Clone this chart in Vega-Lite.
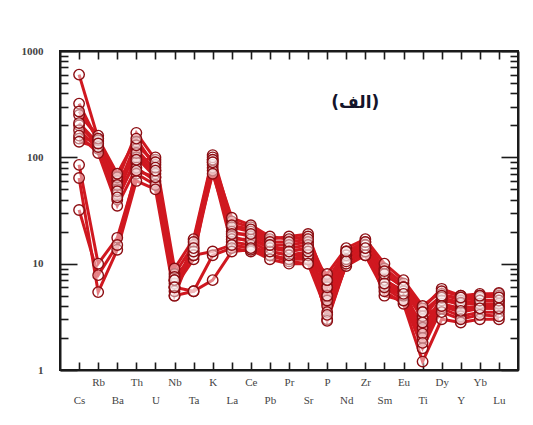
{
  "$schema": "https://vega.github.io/schema/vega-lite/v6.json",
  "autosize": {"type": "none"},
  "width": 458,
  "height": 319,
  "padding": {"left": 60, "top": 51, "right": 15, "bottom": 55},
  "background": "white",
  "config": {
    "view": {"stroke": "#1a1a1a", "strokeWidth": 2},
    "axis": {
      "domainColor": "#1a1a1a",
      "domainWidth": 2,
      "tickColor": "#1a1a1a",
      "tickWidth": 1.6,
      "labelFont": "Liberation Serif",
      "labelFontSize": 11,
      "labelColor": "#444444",
      "labelOverlap": false,
      "labelBound": false,
      "grid": false,
      "title": null
    }
  },
  "datasets": {
    "spider": [
      {"s": "S1", "Cs": 600, "Rb": 150, "Ba": 60, "Th": 170, "U": 95, "Nb": 7, "Ta": 12, "K": 105, "La": 25, "Ce": 22, "Pb": 17, "Pr": 18, "Sr": 19, "P": 6, "Nd": 13, "Zr": 16, "Sm": 9, "Eu": 6.5, "Ti": 3.8, "Dy": 5.8, "Y": 5, "Yb": 5.2, "Lu": 5.2},
      {"s": "S2", "Cs": 320, "Rb": 140, "Ba": 50, "Th": 140, "U": 85, "Nb": 6, "Ta": 11, "K": 95, "La": 27, "Ce": 23, "Pb": 18, "Pr": 17, "Sr": 18, "P": 5, "Nd": 12, "Zr": 15, "Sm": 8, "Eu": 6, "Ti": 3, "Dy": 5.2, "Y": 4.5, "Yb": 4.8, "Lu": 5},
      {"s": "S3", "Cs": 250, "Rb": 160, "Ba": 45, "Th": 120, "U": 75, "Nb": 8, "Ta": 15, "K": 90, "La": 22, "Ce": 20, "Pb": 15, "Pr": 15, "Sr": 16, "P": 4, "Nd": 11, "Zr": 14, "Sm": 7, "Eu": 5.5, "Ti": 2.5, "Dy": 4.8, "Y": 4, "Yb": 4.5, "Lu": 4.5},
      {"s": "S4", "Cs": 200, "Rb": 130, "Ba": 40, "Th": 100, "U": 65, "Nb": 6.5, "Ta": 13, "K": 85, "La": 20, "Ce": 18, "Pb": 14, "Pr": 13, "Sr": 14, "P": 3, "Nd": 10, "Zr": 13, "Sm": 6, "Eu": 5, "Ti": 2, "Dy": 4.2, "Y": 3.8, "Yb": 4, "Lu": 4},
      {"s": "S5", "Cs": 180, "Rb": 120, "Ba": 65, "Th": 90, "U": 100, "Nb": 9, "Ta": 17, "K": 100, "La": 18, "Ce": 16, "Pb": 13, "Pr": 12, "Sr": 12, "P": 8, "Nd": 14, "Zr": 17, "Sm": 10, "Eu": 7, "Ti": 4, "Dy": 5.5, "Y": 5, "Yb": 5, "Lu": 5.3},
      {"s": "S6", "Cs": 150, "Rb": 145, "Ba": 55, "Th": 110, "U": 70, "Nb": 5, "Ta": 14, "K": 80, "La": 16, "Ce": 15, "Pb": 12, "Pr": 11, "Sr": 11, "P": 4.5, "Nd": 11, "Zr": 15, "Sm": 5, "Eu": 4.5, "Ti": 1.6, "Dy": 3.8, "Y": 3.2, "Yb": 3.5, "Lu": 3.5},
      {"s": "S7", "Cs": 160, "Rb": 110, "Ba": 35, "Th": 80, "U": 60, "Nb": 7.5, "Ta": 12, "K": 75, "La": 15, "Ce": 14, "Pb": 12, "Pr": 10.5, "Sr": 10, "P": 3.5, "Nd": 9.5, "Zr": 12, "Sm": 5.5, "Eu": 4.2, "Ti": 1.2, "Dy": 3, "Y": 2.8, "Yb": 3, "Lu": 3},
      {"s": "S8", "Cs": 140, "Rb": 125, "Ba": 48, "Th": 130, "U": 90, "Nb": 5.5, "Ta": 16, "K": 95, "La": 17, "Ce": 17, "Pb": 14, "Pr": 14, "Sr": 15, "P": 2.9, "Nd": 10, "Zr": 13, "Sm": 6.5, "Eu": 5, "Ti": 2.2, "Dy": 4.5, "Y": 4.2, "Yb": 4.2, "Lu": 4.2},
      {"s": "S9", "Cs": 85, "Rb": 10, "Ba": 17.5, "Th": 70, "U": 55, "Nb": 6, "Ta": 5.5, "K": 12, "La": 14, "Ce": 13, "Pb": 12, "Pr": 11, "Sr": 12, "P": 5, "Nd": 12, "Zr": 14, "Sm": 7, "Eu": 5.5, "Ti": 3.2, "Dy": 4, "Y": 3.5, "Yb": 3.8, "Lu": 3.8},
      {"s": "S10", "Cs": 64, "Rb": 5.4, "Ba": 13.5, "Th": 60, "U": 50, "Nb": 5, "Ta": 5.5, "K": 7, "La": 13, "Ce": 13.5, "Pb": 11, "Pr": 10, "Sr": 10, "P": 6, "Nd": 11, "Zr": 12, "Sm": 6, "Eu": 4.5, "Ti": 2.8, "Dy": 3.5, "Y": 3, "Yb": 3.3, "Lu": 3.2},
      {"s": "S11", "Cs": 32, "Rb": 7.8, "Ba": 15, "Th": 75, "U": 65, "Nb": 7, "Ta": 12, "K": 13, "La": 15, "Ce": 14, "Pb": 13, "Pr": 12, "Sr": 13, "P": 7, "Nd": 13, "Zr": 15, "Sm": 8, "Eu": 6, "Ti": 3.5, "Dy": 4.8, "Y": 4.3, "Yb": 4.5, "Lu": 4.5},
      {"s": "S12", "Cs": 270, "Rb": 150, "Ba": 70, "Th": 150, "U": 80, "Nb": 7, "Ta": 13, "K": 90, "La": 23, "Ce": 21, "Pb": 16, "Pr": 16, "Sr": 17, "P": 7, "Nd": 13, "Zr": 16, "Sm": 8.5, "Eu": 6, "Ti": 3.5, "Dy": 5, "Y": 4.8, "Yb": 5, "Lu": 4.8},
      {"s": "S13", "Cs": 210, "Rb": 135, "Ba": 42, "Th": 95, "U": 75, "Nb": 6, "Ta": 14, "K": 70, "La": 19, "Ce": 19, "Pb": 15, "Pr": 13, "Sr": 14, "P": 3.3, "Nd": 10.5, "Zr": 14, "Sm": 6.5, "Eu": 5.2, "Ti": 1.8, "Dy": 4, "Y": 3.6, "Yb": 3.8, "Lu": 3.8}
    ]
  },
  "layer": [
    {
      "data": {"name": "spider"},
      "transform": [
        {"fold": ["Cs", "Rb", "Ba", "Th", "U", "Nb", "Ta", "K", "La", "Ce", "Pb", "Pr", "Sr", "P", "Nd", "Zr", "Sm", "Eu", "Ti", "Dy", "Y", "Yb", "Lu"], "as": ["el", "v"]}
      ],
      "mark": {"type": "line", "color": "#d01820", "strokeWidth": 3},
      "encoding": {
        "x": {
          "field": "el", "type": "ordinal",
          "sort": ["Cs", "Rb", "Ba", "Th", "U", "Nb", "Ta", "K", "La", "Ce", "Pb", "Pr", "Sr", "P", "Nd", "Zr", "Sm", "Eu", "Ti", "Dy", "Y", "Yb", "Lu"],
          "scale": {"type": "point", "padding": 1},
          "axis": {
            "orient": "bottom",
            "labelAngle": 0,
            "tickSize": -8,
            "labelPadding": {"condition": {"test": "indexof(['Rb','Th','Nb','K','Ce','Pr','P','Zr','Eu','Dy','Yb'], datum.value) >= 0", "value": 14}, "value": 32}
          }
        },
        "y": {
          "field": "v", "type": "quantitative",
          "scale": {"type": "log", "domain": [1, 1000], "nice": false},
          "axis": {
            "orient": "left",
            "values": [1, 2, 3, 4, 5, 6, 7, 8, 9, 10, 20, 30, 40, 50, 60, 70, 80, 90, 100, 200, 300, 400, 500, 600, 700, 800, 900, 1000],
            "labelExpr": "indexof([1, 10, 100, 1000], datum.value) >= 0 ? '' + datum.value : ''",
            "labelFontSize": 11,
            "labelFontWeight": "bold",
            "tickSize": {"condition": {"test": "indexof([1, 10, 100, 1000], datum.value) >= 0", "value": -17}, "value": -8},
            "labelPadding": 34
          }
        },
        "detail": {"field": "s"}
      }
    },
    {
      "data": {"name": "spider"},
      "transform": [
        {"fold": ["Cs", "Rb", "Ba", "Th", "U", "Nb", "Ta", "K", "La", "Ce", "Pb", "Pr", "Sr", "P", "Nd", "Zr", "Sm", "Eu", "Ti", "Dy", "Y", "Yb", "Lu"], "as": ["el", "v"]}
      ],
      "mark": {"type": "point", "shape": "circle", "size": 110, "filled": false, "fill": "white", "fillOpacity": 0.45, "stroke": "#8c0d12", "strokeWidth": 1.4, "opacity": 1},
      "encoding": {
        "x": {
          "field": "el", "type": "ordinal",
          "sort": ["Cs", "Rb", "Ba", "Th", "U", "Nb", "Ta", "K", "La", "Ce", "Pb", "Pr", "Sr", "P", "Nd", "Zr", "Sm", "Eu", "Ti", "Dy", "Y", "Yb", "Lu"],
          "axis": {"orient": "top", "labels": false, "tickSize": -8}
        },
        "y": {
          "field": "v", "type": "quantitative",
          "axis": {
            "orient": "right",
            "labels": false,
            "values": [1, 2, 3, 4, 5, 6, 7, 8, 9, 10, 20, 30, 40, 50, 60, 70, 80, 90, 100, 200, 300, 400, 500, 600, 700, 800, 900, 1000],
            "tickSize": {"condition": {"test": "indexof([1, 10, 100, 1000], datum.value) >= 0", "value": -17}, "value": -8}
          }
        },
        "detail": {"field": "s"}
      }
    },
    {
      "data": {"values": [{"label": "(الف)", "el": "Nd", "v": 325}]},
      "mark": {"type": "text", "font": "DejaVu Sans", "fontSize": 17, "fontWeight": "bold", "color": "#14142a", "dx": 9},
      "encoding": {
        "x": {
          "field": "el", "type": "ordinal",
          "sort": ["Cs", "Rb", "Ba", "Th", "U", "Nb", "Ta", "K", "La", "Ce", "Pb", "Pr", "Sr", "P", "Nd", "Zr", "Sm", "Eu", "Ti", "Dy", "Y", "Yb", "Lu"],
          "axis": null
        },
        "y": {"field": "v", "type": "quantitative", "axis": null},
        "text": {"field": "label"}
      }
    }
  ],
  "resolve": {"axis": {"x": "independent", "y": "independent"}}
}
